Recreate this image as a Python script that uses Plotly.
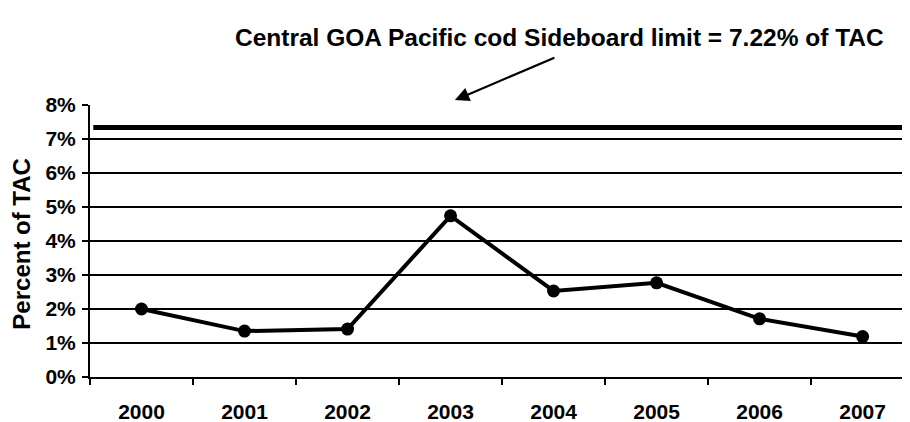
import plotly.graph_objects as go

years = ["2000", "2001", "2002", "2003", "2004", "2005", "2006", "2007"]
percent_of_tac = [2.0, 1.35, 1.41, 4.74, 2.53, 2.77, 1.71, 1.19]
sideboard_drawn = 7.34
y_ticks = [0, 1, 2, 3, 4, 5, 6, 7, 8]
y_tick_labels = ["0%", "1%", "2%", "3%", "4%", "5%", "6%", "7%", "8%"]
grid_vals = [1, 2, 3, 4, 5, 6, 7]
title_text = "Central GOA Pacific cod Sideboard limit = 7.22% of TAC"
y_title = "Percent of TAC"

FONT = "Liberation Sans Narrow, Arial Narrow, Liberation Sans, Arial, sans-serif"

fig = go.Figure()
fig.add_trace(go.Scatter(
    x=years, y=percent_of_tac, mode="lines+markers",
    line=dict(color="black", width=4),
    marker=dict(color="black", size=13),
    showlegend=False, cliponaxis=False,
))

fig.add_shape(type="line", xref="paper", yref="y",
              x0=0.004, x1=0.991, y0=sideboard_drawn, y1=sideboard_drawn,
              line=dict(color="black", width=5))

fig.add_annotation(text=title_text, xref="paper", yref="paper",
                   x=0.572, y=1.305, showarrow=False,
                   font=dict(family=FONT, size=24.5, color="black", weight="bold"))

fig.add_annotation(text="", xref="paper", yref="paper",
                   x=0.445, y=1.018, ax=101, ay=-43,
                   showarrow=True, arrowhead=2, arrowsize=1.3, arrowwidth=2.2,
                   arrowcolor="black")

fig.add_annotation(text=y_title, xref="paper", yref="paper",
                   x=-0.083, y=0.49, textangle=-90, showarrow=False,
                   xanchor="center", yanchor="middle",
                   font=dict(family=FONT, size=24, color="black", weight="bold"))

# page has an 8px body margin, so the figure is sized/offset to land on the 910x422 frame
fig.update_layout(
    width=902, height=414,
    margin=dict(l=82, r=0, t=97, b=45),
    paper_bgcolor="white", plot_bgcolor="white",
    font=dict(family=FONT, color="black"),
)

fig.update_xaxes(
    type="category", range=[-0.5, 7.46], automargin=False,
    tickson="boundaries", ticks="outside", ticklen=6, tickwidth=1.5, tickcolor="black",
    showline=True, linecolor="black", linewidth=2,
    showgrid=False, zeroline=False,
    tickfont=dict(family=FONT, size=21, color="black", weight="bold"),
    ticklabelstandoff=15,
)

fig.update_yaxes(
    range=[0, 8], tickvals=y_ticks, ticktext=y_tick_labels, automargin=False,
    ticks="outside", ticklen=6, tickwidth=1.5, tickcolor="black",
    showline=True, linecolor="black", linewidth=2,
    showgrid=False, zeroline=False,
    tickfont=dict(family=FONT, size=21, color="black", weight="bold"),
    ticklabelstandoff=2,
    minor=dict(tickvals=grid_vals, showgrid=True, gridcolor="black", gridwidth=1.5, ticks=""),
)

fig.write_html("out.html")
